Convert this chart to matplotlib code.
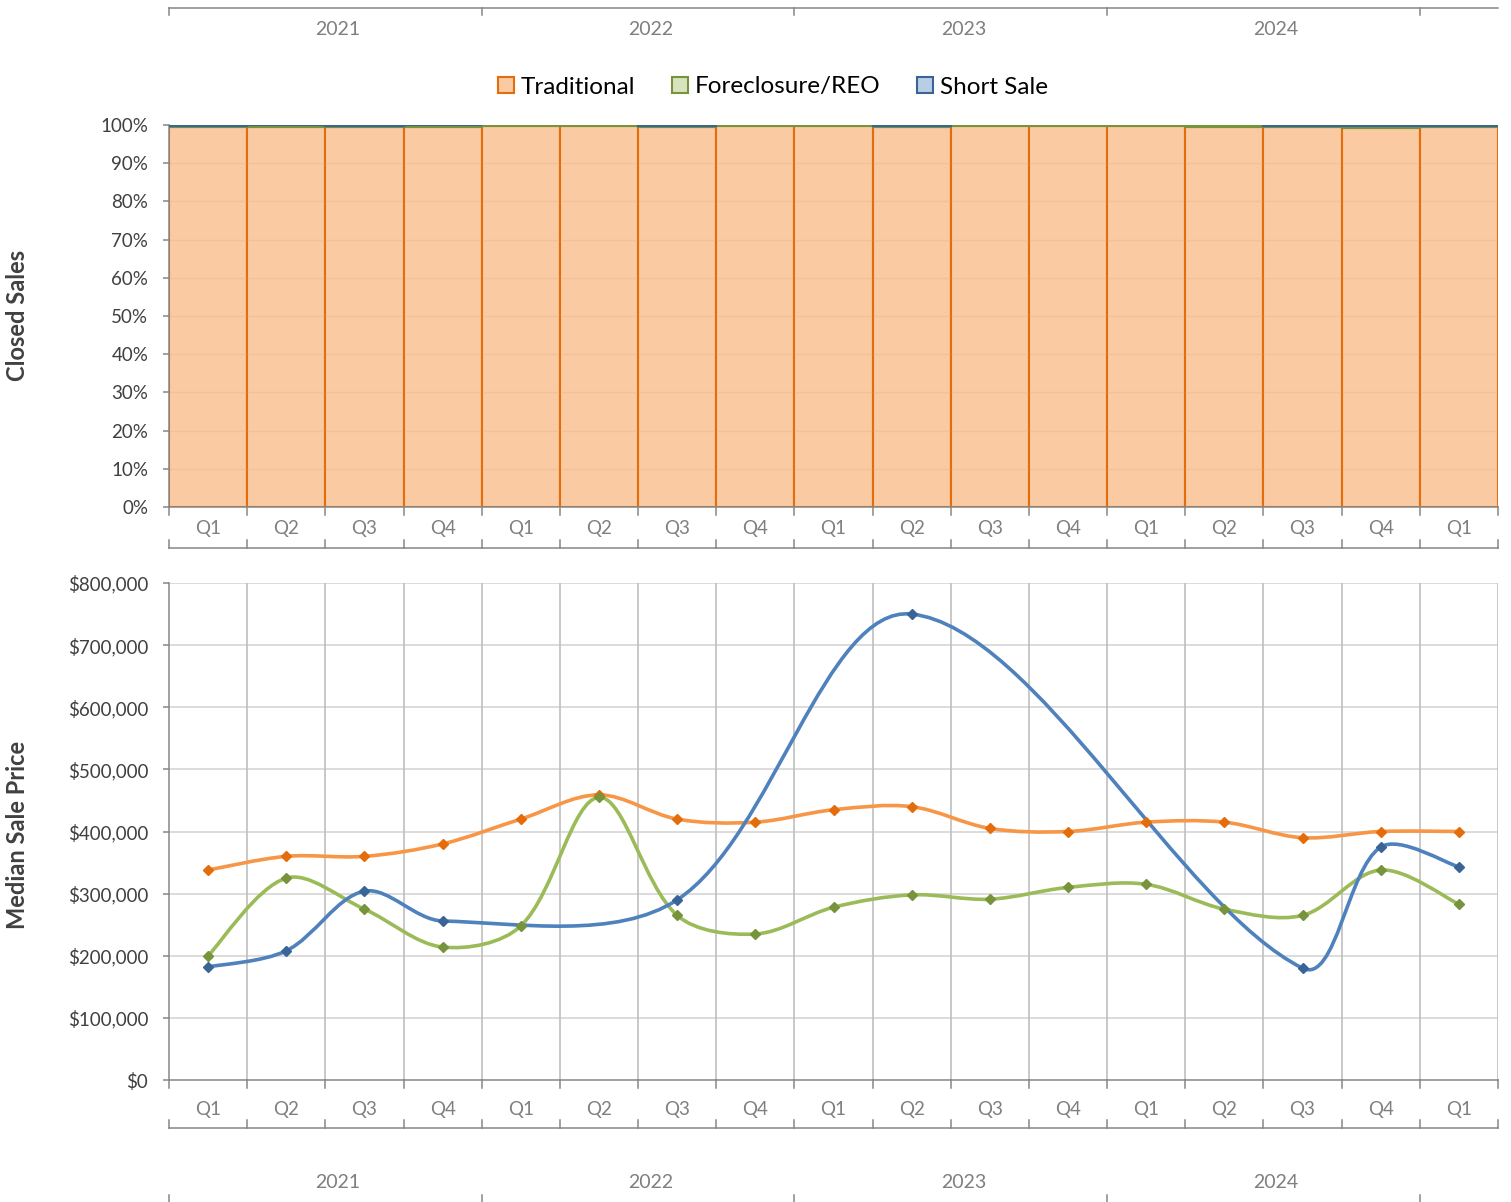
import numpy as np
import matplotlib
matplotlib.use("Agg")
import matplotlib.pyplot as plt
from matplotlib.path import Path
from matplotlib.patches import PathPatch, Patch
from matplotlib.transforms import blended_transform_factory

plt.rcParams['font.family'] = ['Lato', 'DejaVu Sans']

# data
quarters = ["Q1", "Q2", "Q3", "Q4"] * 4 + ["Q1"]
years = ["2021", "2022", "2023", "2024"]

share_traditional = [99.5, 99.6, 99.5, 99.6, 99.7, 99.7, 99.6, 99.7, 99.7, 99.6, 99.7, 99.7, 99.7, 99.6, 99.6, 99.2, 99.5]
share_foreclosure = [0.3, 0.3, 0.3, 0.3, 0.3, 0.3, 0.2, 0.3, 0.3, 0.2, 0.3, 0.3, 0.3, 0.4, 0.2, 0.5, 0.3]
share_short = [0.2, 0.1, 0.2, 0.1, 0, 0, 0.2, 0, 0, 0.2, 0, 0, 0, 0, 0.2, 0.3, 0.2]

price_traditional = [338000, 360000, 360000, 380000, 420000, 459000, 420000, 415000, 435000,
                     440000, 405000, 400000, 415000, 415000, 390000, 400000, 400000]
price_foreclosure = [200000, 325000, 275000, 214000, 248000, 455000, 265000, 235000, 278000,
                     298000, 291000, 310000, 315000, 275000, 265000, 338000, 283000]
price_short = [182000, 208000, 304000, 256000, None, None, 290000, None, None,
               750000, None, None, None, None, 180000, 375000, 343000]

# colours
trad_fill, trad_edge = '#FACAA3', '#E46C0A'
fc_fill, fc_edge = '#D7E4BD', '#77933C'
ss_fill, ss_edge = '#B9CDE5', '#3B6496'
trad_line, fc_line, ss_line = '#F79646', '#9BBB59', '#4F81BD'
axis_grey = '#868686'
label_grey = '#7F7F7F'
dark = '#404040'

W, H = 1511, 1202
fig = plt.figure(figsize=(W / 100, H / 100), dpi=100)
x0, x1 = 169, 1498
ax_top = fig.add_axes([x0 / W, 1 - 507 / H, (x1 - x0) / W, (507 - 125) / H])
ax_bot = fig.add_axes([x0 / W, 1 - 1080 / H, (x1 - x0) / W, (1080 - 583) / H])

n = len(quarters)
x = np.arange(n)
bounds = np.arange(-0.5, n, 1.0)
year_bounds = [-0.5, 3.5, 7.5, 11.5, 15.5]


def style_axis(ax):
    ax.set_xlim(-0.5, n - 0.5)
    for s in ['top', 'right', 'bottom']:
        ax.spines[s].set_visible(False)
    ax.spines['left'].set_color(axis_grey)
    ax.spines['left'].set_linewidth(1.1)
    ax.tick_params(axis='y', colors=axis_grey, labelcolor=dark, length=4, width=1.1,
                   labelsize=13.5, pad=11)
    ax.set_xticks([])


def draw_cat_axis(ax, h_px, q_y, line2_y, tick_len):
    tr = blended_transform_factory(ax.transData, ax.transAxes)
    ax.plot([-0.5, n - 0.5], [0, 0], color=axis_grey, lw=1.1, transform=tr, clip_on=False, zorder=5)
    d = tick_len / h_px
    for b in bounds:
        ax.plot([b, b], [0, -d], color=axis_grey, lw=1.1, transform=tr, clip_on=False)
        ax.plot([b, b], [line2_y, line2_y + d], color=axis_grey, lw=1.1, transform=tr, clip_on=False)
    ax.plot([-0.5, n - 0.5], [line2_y, line2_y], color=axis_grey, lw=1.1, transform=tr, clip_on=False)
    for i, q in enumerate(quarters):
        ax.text(i, q_y, q, transform=tr, ha='center', va='center', color=label_grey, fontsize=13.5)


# ---- top: closed sales share ----
style_axis(ax_top)
ax_top.set_ylim(0, 100)
ax_top.set_yticks(np.arange(0, 101, 10))
ax_top.set_yticklabels([f"{v}%" for v in range(0, 101, 10)])
ax_top.bar(x, share_traditional, width=1, color=trad_fill, edgecolor=trad_edge, linewidth=1.5, zorder=2)
fc_bottom = np.array(share_traditional)
ax_top.bar(x, share_foreclosure, width=1, bottom=fc_bottom, color=fc_fill, edgecolor=fc_edge,
           linewidth=1.5, zorder=3)
ss_bottom = fc_bottom + np.array(share_foreclosure)
ss_idx = [i for i, v in enumerate(share_short) if v > 0]
ax_top.bar([x[i] for i in ss_idx], [share_short[i] for i in ss_idx], width=1,
           bottom=[ss_bottom[i] for i in ss_idx], color=ss_fill, edgecolor=ss_edge, linewidth=1.5, zorder=4)
for v in range(10, 100, 10):
    ax_top.axhline(v, color='#C8A080', lw=1.0, alpha=0.18, zorder=3)

h_top = 507 - 125
draw_cat_axis(ax_top, h_top, -21 / h_top, -41 / h_top, 8)

# year axis at the very top of the picture
trt = blended_transform_factory(ax_top.transData, ax_top.transAxes)
ytop = 1 + (125 - 8) / h_top
ax_top.plot([-0.5, n - 0.5], [ytop, ytop], color=axis_grey, lw=1.1, transform=trt, clip_on=False)
for b in year_bounds:
    ax_top.plot([b, b], [ytop, ytop - 7 / h_top], color=axis_grey, lw=1.1, transform=trt, clip_on=False)
for k, yr in enumerate(years):
    ax_top.text(4 * k + 1.66, 1 + (125 - 29) / h_top, yr, transform=trt, ha='center', va='center',
                color=label_grey, fontsize=14)

handles = [Patch(facecolor=trad_fill, edgecolor=trad_edge, linewidth=1.5),
           Patch(facecolor=fc_fill, edgecolor=fc_edge, linewidth=1.5),
           Patch(facecolor=ss_fill, edgecolor=ss_edge, linewidth=1.5)]
fig.legend(handles, ["Traditional", "Foreclosure/REO", "Short Sale"], loc='center',
           bbox_to_anchor=(773 / W, 1 - 87 / H), ncol=3, frameon=False, fontsize=17.5,
           handlelength=0.65, handleheight=0.65, handletextpad=0.3, columnspacing=1.5)


# ---- bottom: median sale price ----
def smooth_path(xs, ys, xscale, yscale):
    pts = [(xi, yi) for xi, yi in zip(xs, ys) if yi is not None]
    P = np.array(pts, dtype=float)
    S = np.array([xscale, yscale])
    verts = [tuple(P[0])]
    codes = [Path.MOVETO]
    m = len(P)

    def dist(a, b):
        return np.hypot(*((P[a] - P[b]) * S))

    for i in range(m - 1):
        p0 = P[i - 1] if i > 0 else P[i]
        p3 = P[i + 2] if i + 2 < m else P[i + 1]
        d12 = dist(i, i + 1)
        d01 = dist(i - 1, i) if i > 0 else d12
        d23 = dist(i + 1, i + 2) if i + 2 < m else d12
        s1 = 2 * d12 / (d01 + d12)
        s2 = 2 * d12 / (d12 + d23)
        c1 = P[i] + (P[i + 1] - p0) / 6 * s1
        c2 = P[i + 1] - (p3 - P[i]) / 6 * s2
        verts += [tuple(c1), tuple(c2), tuple(P[i + 1])]
        codes += [Path.CURVE4] * 3
    return Path(verts, codes)


style_axis(ax_bot)
ax_bot.set_ylim(0, 800000)
ax_bot.set_yticks(np.arange(0, 800001, 100000))
ax_bot.set_yticklabels([f"${v:,}" for v in range(0, 800001, 100000)])
for v in range(100000, 800001, 100000):
    ax_bot.axhline(v, color='#D9D9D9', lw=1.3, zorder=0)
for b in bounds[1:]:
    ax_bot.axvline(b, color='#BFBFBF', lw=1.2, zorder=0)

xs_px = (x1 - x0) / n
ys_px = (1080 - 583) / 800000
for vals, lc, mc in [(price_traditional, trad_line, trad_edge),
                     (price_foreclosure, fc_line, fc_edge),
                     (price_short, ss_line, ss_edge)]:
    path = smooth_path(x, vals, xs_px, ys_px)
    ax_bot.add_patch(PathPatch(path, fill=False, edgecolor=lc, lw=2.6, zorder=3, capstyle='round'))
    xm = [xi for xi, v in zip(x, vals) if v is not None]
    ym = [v for v in vals if v is not None]
    ax_bot.plot(xm, ym, linestyle='none', marker='D', markersize=5, color=mc, zorder=4)

h_bot = 1080 - 583
draw_cat_axis(ax_bot, h_bot, -29 / h_bot, -48 / h_bot, 8)
trb = blended_transform_factory(ax_bot.transData, ax_bot.transAxes)
for k, yr in enumerate(years):
    ax_bot.text(4 * k + 1.66, -103 / h_bot, yr, transform=trb, ha='center', va='center',
                color=label_grey, fontsize=14)
for b in year_bounds:
    ax_bot.plot([b, b], [-115 / h_bot, -125 / h_bot], color=axis_grey, lw=1.1, transform=trb, clip_on=False)

fig.text(18 / W, 1 - 315 / H, "Closed Sales", rotation=90, ha='center', va='center',
         fontsize=17, fontweight='bold', color=dark)
fig.text(18 / W, 1 - 835 / H, "Median Sale Price", rotation=90, ha='center', va='center',
         fontsize=17, fontweight='bold', color=dark)

fig.savefig("out.png", dpi=100)
